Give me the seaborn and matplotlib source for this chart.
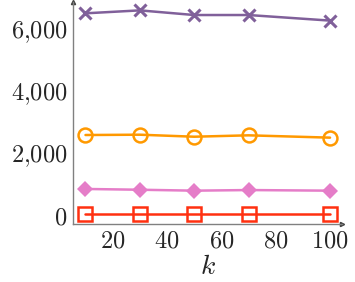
import pandas as pd
import numpy as np
import matplotlib
matplotlib.use("Agg")
import matplotlib.pyplot as plt
import seaborn as sns
from matplotlib.ticker import FuncFormatter

# values
k = [10, 30, 50, 70, 100]
purple = [6505, 6600, 6450, 6450, 6270]
orange = [2580, 2590, 2525, 2570, 2495]
pink = [840, 815, 785, 805, 785]
red = [30, 30, 30, 30, 30]

sns.set_style("white")
plt.rcParams['mathtext.fontset'] = 'cm'
plt.rcParams['font.family'] = ['DejaVu Serif']

fig = plt.figure(figsize=(3.55, 2.82), dpi=100)
ax = fig.add_axes([73/355, (282-224)/282, (342-73)/355, (224-2)/282])

styles = [
    (purple, "#80609A", dict(marker="x", markersize=8, markeredgewidth=2.2)),
    (orange, "#FF9900", dict(marker="o", markersize=10, markerfacecolor="none", markeredgewidth=1.8)),
    (pink, "#E57DC8", dict(marker="D", markersize=8, markeredgewidth=0)),
    (red, "#FF3010", dict(marker="s", markersize=10, markerfacecolor="none", markeredgewidth=1.8)),
]
for vals, col, mk in styles:
    df = pd.DataFrame({"k": k, "v": vals})
    sns.lineplot(data=df, x="k", y="v", color=col, linewidth=1.8, ax=ax,
                 markeredgecolor=col, clip_on=False, **mk)

ax.set_xlim(5.4, 104.4)
ax.set_ylim(-290, 6870)
ax.set_xticks([20, 40, 60, 80, 100])
ax.set_yticks([0, 2000, 4000, 6000])
ax.xaxis.set_major_formatter(FuncFormatter(lambda v, p: r"$%d$" % v))
ax.yaxis.set_major_formatter(FuncFormatter(
    lambda v, p: r"$%s$" % ("{:,}".format(int(v)).replace(",", "{,}"))))
ax.tick_params(axis="both", labelsize=17.5, direction="inout", length=4,
               width=0.6, color="#808080", pad=2)
ax.set_xlabel(r"$k$", fontsize=20, labelpad=0)
ax.set_ylabel("")

for s in ["top", "right"]:
    ax.spines[s].set_visible(False)
for s in ["left", "bottom"]:
    ax.spines[s].set_color("#808080")
    ax.spines[s].set_linewidth(1.0)

# arrow heads on axis ends
ax.plot(1, 0, ">", transform=ax.transAxes, color="#404040", markersize=3, clip_on=False)
ax.plot(0, 1, "^", transform=ax.transAxes, color="#404040", markersize=3, clip_on=False)

fig.savefig("out.png", dpi=100)
